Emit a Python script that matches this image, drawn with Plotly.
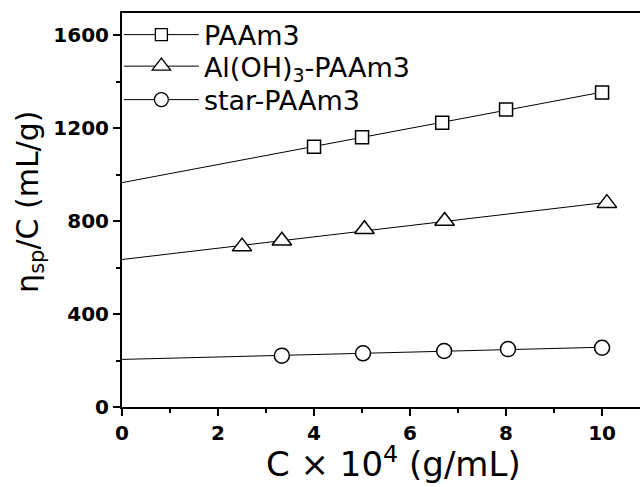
import numpy as np
import plotly.graph_objects as go

# Reduced viscosity vs concentration for three polymer samples
series_names = ["PAAm3", "Al(OH)<sub>3</sub>-PAAm3", "star-PAAm3"]
conc_paam = [4.0, 5.0, 6.67, 8.0, 10.0]
visc_paam = [1120, 1161, 1223, 1280, 1353]
conc_al = [2.5, 3.33, 5.05, 6.72, 10.1]
visc_al = [690, 715, 765, 800, 877]
conc_star = [3.33, 5.02, 6.71, 8.04, 10.0]
visc_star = [221, 231, 241, 249, 255]

y_ticks = [0, 400, 800, 1200, 1600]
x_ticks = [0, 2, 4, 6, 8, 10]

symbols = ["square", "triangle-up", "circle"]
sizes = [13, 17, 15]
FONT = "DejaVu Sans, Arial"

fig = go.Figure()
datasets = [(conc_paam, visc_paam), (conc_al, visc_al), (conc_star, visc_star)]

for i, (cx, cy) in enumerate(datasets):
    # linear extrapolation to zero concentration
    slope, icpt = np.polyfit(cx, cy, 1)
    xf = np.array([0.0, max(cx)])
    fig.add_trace(go.Scatter(x=xf, y=slope * xf + icpt, mode="lines",
                             line=dict(color="black", width=1), showlegend=False,
                             hoverinfo="skip"))
    fig.add_trace(go.Scatter(x=cx, y=cy, mode="markers", showlegend=False,
                             marker=dict(symbol=symbols[i], size=sizes[i], color="white",
                                         line=dict(color="black", width=1.5))))

# legend entries (one legend box per row): line with marker in the middle
legend_ids = ["legend", "legend2", "legend3"]
for i, name in enumerate(series_names):
    fig.add_trace(go.Scatter(x=[None], y=[None], mode="lines+markers", name=name,
                             legend=legend_ids[i],
                             line=dict(color="black", width=1),
                             marker=dict(symbol=symbols[i], size=sizes[i] - 1, color="white",
                                         line=dict(color="black", width=1.3))))

tick_font = dict(family=FONT, size=20, color="black", weight="bold")
legend_style = dict(x=-0.006, xanchor="left", yanchor="middle", bgcolor="rgba(0,0,0,0)",
                    font=dict(size=27, family=FONT), itemwidth=75)

fig.update_layout(
    width=640, height=487,
    margin=dict(l=122, r=0, t=13, b=80),
    paper_bgcolor="white", plot_bgcolor="white",
    font=dict(family=FONT, color="black"),
    showlegend=True,
    legend=dict(y=0.944, **legend_style),
    legend2=dict(y=0.864, **legend_style),
    legend3=dict(y=0.779, **legend_style),
    xaxis=dict(range=[0, 10.79], tickvals=x_ticks, showgrid=False, zeroline=False,
               showline=True, linecolor="black", linewidth=2, mirror=True,
               ticks="outside", ticklen=7, tickwidth=2, tickcolor="black",
               minor=dict(ticks="outside", dtick=1, ticklen=4, tickwidth=2, tickcolor="black"),
               tickfont=tick_font),
    yaxis=dict(range=[0, 1695], tickvals=y_ticks, showgrid=False, zeroline=False,
               showline=True, linecolor="black", linewidth=2,
               ticks="outside", ticklen=7, tickwidth=2, tickcolor="black",
               minor=dict(ticks="outside", dtick=200, ticklen=4, tickwidth=2, tickcolor="black"),
               tickfont=tick_font),
    annotations=[
        dict(text="C \u00d7 10<sup>4</sup> (g/mL)", xref="paper", yref="paper",
             x=0.525, y=-0.14, xanchor="center", yanchor="middle", showarrow=False,
             font=dict(size=34, family=FONT)),
        dict(text="\u03b7<sub>sp</sub>/C (mL/g)", xref="paper", yref="paper",
             x=-0.18, y=0.52, xanchor="center", yanchor="middle", showarrow=False,
             textangle=-90, font=dict(size=30, family=FONT)),
    ],
)

fig.write_html("out.html")
